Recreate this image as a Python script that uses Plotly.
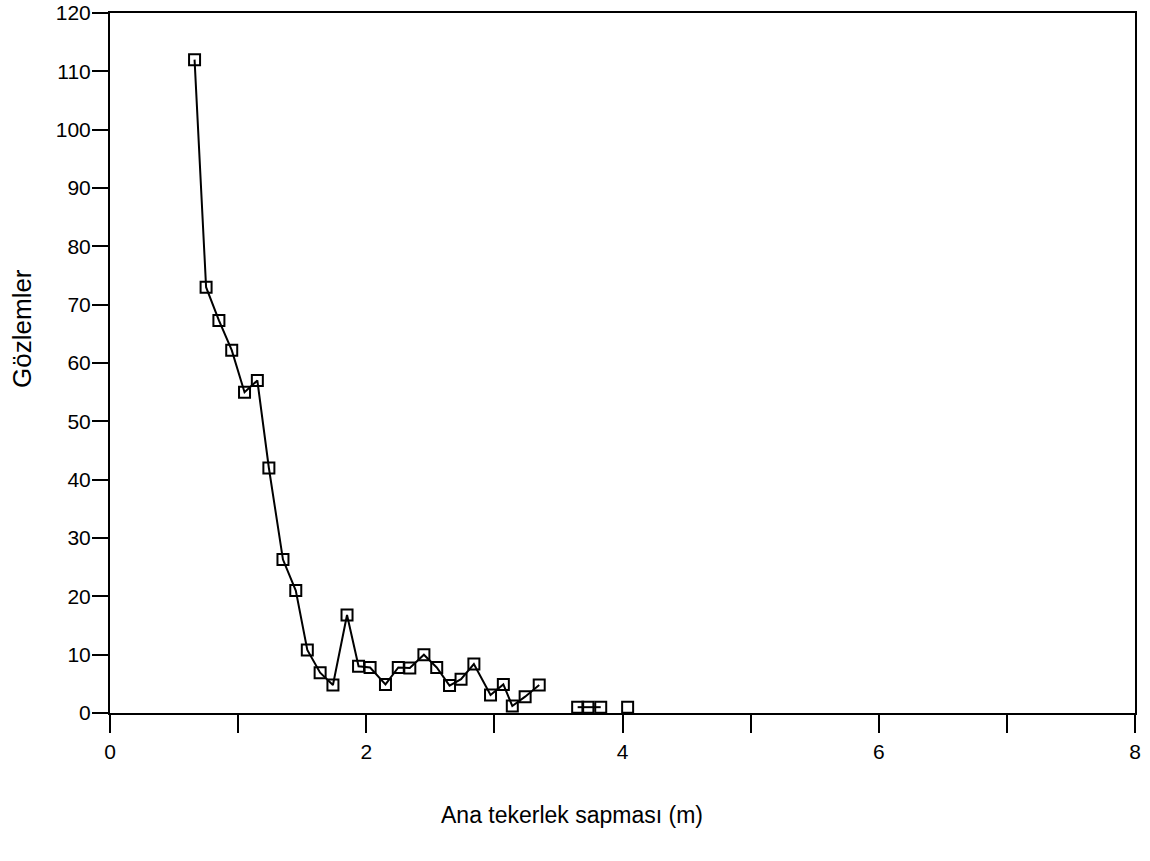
import plotly.graph_objects as go

# Main wheel deviation (m) and number of observations
x_main = [0.66, 0.75, 0.85, 0.95, 1.05, 1.15, 1.24, 1.35, 1.45, 1.54, 1.64, 1.74,
          1.85, 1.94, 2.03, 2.15, 2.25, 2.34, 2.45, 2.55, 2.65, 2.74, 2.84, 2.97,
          3.07, 3.14, 3.24, 3.35]
y_main = [112, 73, 67.3, 62.2, 55, 57, 42, 26.3, 21, 10.8, 6.9, 4.8,
          16.8, 8, 7.8, 4.9, 7.8, 7.7, 10, 7.8, 4.7, 5.8, 8.4, 3.1,
          4.9, 1.2, 2.8, 4.8]

# Sparse tail observations
x_tail = [3.65, 3.73, 3.83, None, 4.04]
y_tail = [1, 1, 1, None, 1]

x_ticks = [0, 2, 4, 6, 8]
y_ticks = list(range(0, 121, 10))

FONT = "Liberation Sans, Arial, sans-serif"
TICKFONT = dict(family=FONT, size=21, color="black")

marker = dict(symbol="square-open", size=11, color="black", line=dict(width=2, color="black"))

fig = go.Figure()
fig.add_trace(go.Scatter(x=x_main, y=y_main, mode="lines+markers",
                         line=dict(color="black", width=2), marker=marker,
                         cliponaxis=False, showlegend=False))
fig.add_trace(go.Scatter(x=x_tail, y=y_tail, mode="lines+markers",
                         line=dict(color="black", width=2), marker=marker,
                         connectgaps=False, cliponaxis=False, showlegend=False))

fig.update_layout(
    width=1150, height=861,
    margin=dict(l=110, r=15, t=13, b=148),
    paper_bgcolor="white", plot_bgcolor="white",
    font=dict(family=FONT, size=19, color="black"),
    xaxis=dict(range=[0, 8], tickvals=x_ticks, ticktext=[str(v) for v in x_ticks],
               tickfont=TICKFONT,
               showgrid=False, zeroline=False, showline=True, linecolor="black",
               linewidth=2, mirror=True, ticks="outside", ticklen=18, tickwidth=2,
               tickcolor="black", ticklabelstandoff=1, automargin=False,
               minor=dict(tickvals=[1, 3, 5, 7], ticks="outside", ticklen=18,
                          tickwidth=2, tickcolor="black")),
    yaxis=dict(range=[0, 120], tickvals=y_ticks, ticktext=[str(v) for v in y_ticks],
               tickfont=TICKFONT,
               showgrid=False, zeroline=False, showline=True, linecolor="black",
               linewidth=2, mirror=True, ticks="outside", ticklen=16, tickwidth=2,
               tickcolor="black", ticklabelstandoff=-3, automargin=False),
    annotations=[
        dict(text="Ana tekerlek sapması (m)", xref="paper", yref="paper",
             x=0.4507, y=-0.1457, xanchor="center", yanchor="middle",
             showarrow=False, font=dict(size=23)),
        dict(text="Gözlemler", xref="paper", yref="paper",
             x=-0.0859, y=0.55, xanchor="center", yanchor="middle",
             textangle=-90, showarrow=False, font=dict(size=26)),
    ],
)

fig.write_html("out.html")
